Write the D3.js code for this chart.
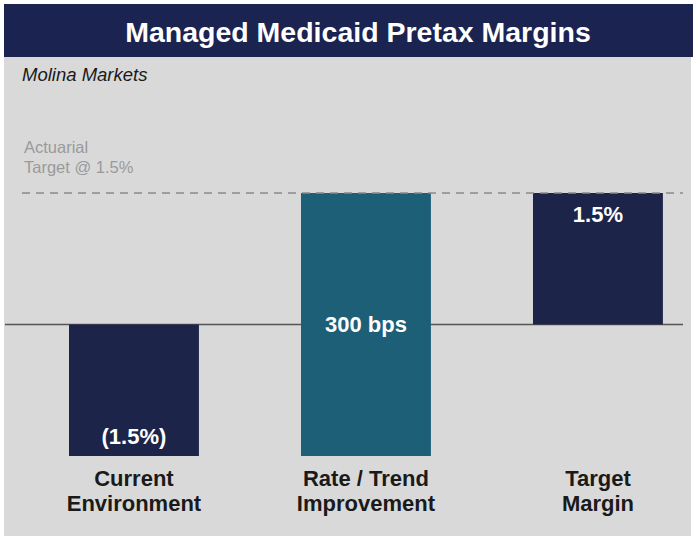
<!DOCTYPE html>
<html>
<head>
<meta charset="utf-8">
<script src="https://cdn.jsdelivr.net/npm/d3@7"></script>
<style>
  html, body { margin: 0; padding: 0; background: #ffffff; }
  svg { display: block; font-family: "Liberation Sans", Arial, sans-serif; }
</style>
</head>
<body>
<svg id="chart" width="693" height="538"></svg>
<script>
// Waterfall steps: each bar spans from its start to its end margin (in %)
const categories = ["Current\nEnvironment", "Rate / Trend\nImprovement", "Target\nMargin"];
const startValues = [0, -1.5, 0];
const endValues = [-1.5, 1.5, 1.5];
const barLabels = ["(1.5%)", "300 bps", "1.5%"];
const barColors = ["#1c2449", "#1d5f76", "#1c2449"];
const targetValue = 1.5;

const svg = d3.select("#chart");
const W = 693, H = 538;

// background panel and title band
svg.append("rect").attr("x", 4).attr("y", 4).attr("width", W - 6).attr("height", H - 6)
  .attr("fill", "#d9d9d9");
svg.append("rect").attr("x", 4).attr("y", 4).attr("width", W - 4).attr("height", 53)
  .attr("fill", "#1b2350");
svg.append("text").attr("x", 358).attr("y", 42).attr("text-anchor", "middle")
  .attr("fill", "#ffffff").attr("font-weight", "bold").attr("font-size", 28.5)
  .text("Managed Medicaid Pretax Margins");

svg.append("text").attr("x", 22).attr("y", 81)
  .attr("fill", "#1a1a1a").attr("font-style", "italic").attr("font-size", 18.5)
  .text("Molina Markets");

const x = d3.scaleBand().domain(categories).range([22.6, 709.3])
  .paddingInner(0.44).paddingOuter(0.2);
const y = d3.scaleLinear().domain([-1.5, 1.5]).range([456, 193]);

// zero baseline
svg.append("line").attr("x1", 5).attr("x2", 683)
  .attr("y1", y(0)).attr("y2", y(0))
  .attr("stroke", "#555555").attr("stroke-width", 1.3);

// bars
const bars = categories.map((c, i) => ({ c, s: startValues[i], e: endValues[i], label: barLabels[i], color: barColors[i] }));
svg.selectAll("rect.bar").data(bars).enter().append("rect")
  .attr("class", "bar")
  .attr("x", d => x(d.c))
  .attr("width", x.bandwidth())
  .attr("y", d => y(Math.max(d.s, d.e)))
  .attr("height", d => Math.abs(y(d.s) - y(d.e)))
  .attr("fill", d => d.color);

// actuarial target line
svg.append("line").attr("x1", 22).attr("x2", 683)
  .attr("y1", y(targetValue)).attr("y2", y(targetValue))
  .attr("stroke", "#8a8a8a").attr("stroke-width", 1.5)
  .attr("stroke-dasharray", "8,6");
svg.append("text").attr("x", 24).attr("y", 153)
  .attr("fill", "#9a9a9a").attr("font-size", 16.5).text("Actuarial");
svg.append("text").attr("x", 24).attr("y", 173)
  .attr("fill", "#9a9a9a").attr("font-size", 16.5).text("Target @ 1.5%");

// value labels inside bars
const labelY = [y(-1.5) - 12, (y(-1.5) + y(1.5)) / 2 + 7, y(1.5) + 29];
svg.selectAll("text.val").data(bars).enter().append("text")
  .attr("class", "val")
  .attr("x", d => x(d.c) + x.bandwidth() / 2)
  .attr("y", (d, i) => labelY[i])
  .attr("text-anchor", "middle")
  .attr("fill", "#ffffff").attr("font-weight", "bold").attr("font-size", 22)
  .text(d => d.label);

// category labels below
const cat = svg.selectAll("text.cat").data(categories).enter().append("text")
  .attr("class", "cat")
  .attr("x", d => x(d) + x.bandwidth() / 2)
  .attr("y", 486)
  .attr("text-anchor", "middle")
  .attr("fill", "#1a1a1a").attr("font-weight", "bold").attr("font-size", 22);
cat.selectAll("tspan").data(d => d.split("\n")).enter().append("tspan")
  .attr("x", function () { return d3.select(this.parentNode).attr("x"); })
  .attr("dy", (d, i) => i === 0 ? 0 : 25)
  .text(d => d);
</script>
</body>
</html>
